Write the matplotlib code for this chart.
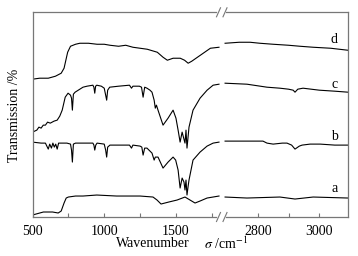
import numpy as np
import matplotlib.pyplot as plt

plt.rcParams['font.family'] = ['Liberation Serif', 'DejaVu Serif']
plt.rcParams['mathtext.fontset'] = 'stix'
plt.rcParams['font.size'] = 10

# ---- spectra (wavenumber, transmission in arbitrary offset units) ----
# low wavenumber part (500 - 1800)
d_w1 = [500, 550, 610, 660, 700, 720, 745, 765, 800, 830, 890, 950, 1000, 1040, 1100, 1150, 1200, 1250,
        1300, 1370, 1410, 1440, 1480, 1510, 1530, 1560, 1585, 1610, 1650, 1700, 1740, 1800]
d_t1 = [138, 139, 139, 141, 144, 149, 165, 171, 173, 174, 174, 173, 173, 172, 171, 172, 170, 169,
        168, 165, 160, 157, 159, 159, 159, 157, 154, 156, 160, 165, 169, 170]
d_w2 = [2694, 2740, 2775, 2807, 2850, 2900, 2937, 2980, 3037, 3093]
d_t2 = [174, 175, 175, 174, 173, 172, 171, 170, 169, 167]

c_w1 = [500, 515, 530, 545, 560, 575, 590, 605, 624, 650, 672, 690, 707, 728, 748, 765, 772, 778, 785,
        797, 830, 852, 880, 921, 928, 934, 940, 948, 980, 1000, 1010, 1017, 1024, 1038, 1100, 1176,
        1190, 1200, 1245, 1260, 1271, 1282, 1298, 1319, 1333, 1348, 1356, 1364, 1375, 1410, 1445,
        1480, 1500, 1515, 1529, 1543, 1563, 1570, 1577, 1591, 1619, 1668, 1717, 1759, 1800]
c_t1 = [85, 86, 87, 90, 89, 92, 92, 95, 94, 96, 97, 101, 107, 120, 124, 122, 119, 107, 123,
        125, 128, 130, 131, 132, 130, 124, 131, 132, 131, 129, 122, 117, 127, 130, 131, 132,
        129, 131, 131, 130, 120, 130, 129, 127, 125, 117, 109, 112, 107, 92, 99,
        107, 99, 87, 75, 85, 74, 87, 69, 90, 107, 119, 127, 132, 133]
c_w2 = [2694, 2765, 2830, 2872, 2900, 2915, 2921, 2930, 2947, 3000, 3050, 3093]
c_t2 = [134, 133, 130, 129, 128, 127, 125, 128, 129, 127, 126, 125]

b_w1 = [500, 560, 590, 600, 610, 620, 632, 642, 652, 662, 672, 682, 700, 740, 765, 772, 778, 785, 800,
        880, 921, 928, 934, 941, 950, 1000, 1010, 1017, 1024, 1040, 1100, 1176, 1190, 1200, 1250,
        1262, 1271, 1282, 1298, 1319, 1333, 1348, 1356, 1364, 1375, 1410, 1445, 1480, 1498, 1515,
        1529, 1543, 1556, 1563, 1570, 1577, 1585, 1591, 1619, 1668, 1717, 1759, 1800]
b_t1 = [75, 74, 74, 71, 68, 73, 69, 74, 70, 73, 68, 74, 74, 74, 73, 67, 55, 73, 74,
        74, 74, 72, 67, 72, 74, 73, 67, 60, 70, 72, 72, 72, 69, 72, 71,
        70, 62, 69, 69, 66, 64, 57, 60, 60, 60, 49, 55, 60, 57, 47,
        29, 39, 35, 27, 37, 22, 31, 37, 57, 65, 71, 74, 75]
b_w2 = [2694, 2760, 2817, 2830, 2850, 2880, 2895, 2910, 2921, 2935, 2944, 2970, 3003, 3050, 3093]
b_t2 = [76, 76, 76, 74, 73, 74, 74, 72, 68, 71, 72, 73, 73, 72, 72]

a_w1 = [500, 576, 640, 679, 700, 720, 735, 750, 800, 852, 948, 1086, 1250, 1340, 1368, 1396, 1450,
        1508, 1563, 1598, 1633, 1668, 1717, 1800]
a_t1 = [2, 5, 5, 4, 6, 14, 19, 20, 21, 21, 22, 21, 21, 20, 17, 13, 15, 17, 20, 17, 14, 16, 19, 21]
a_w2 = [2694, 2765, 2872, 2921, 2980, 3093]
a_t2 = [20, 19, 20, 18, 20, 19]

names = ['a', 'b', 'c', 'd']
label_y = [29, 81, 133, 178]

W, H = 358, 256
fig = plt.figure(figsize=(W / 100, H / 100), dpi=100)
ax1 = fig.add_axes([32.5 / W, 1 - 217 / H, (222 - 32.5) / W, (217 - 12.3) / H])
ax2 = fig.add_axes([222 / W, 1 - 217 / H, (348.3 - 222) / W, (217 - 12.3) / H], sharey=ax1)

for w, t in [(a_w1, a_t1), (b_w1, b_t1), (c_w1, c_t1), (d_w1, d_t1)]:
    ax1.plot(w, t, color='black', lw=0.8)
for w, t in [(a_w2, a_t2), (b_w2, b_t2), (c_w2, c_t2), (d_w2, d_t2)]:
    ax2.plot(w, t, color='black', lw=0.8)

for name, y in zip(names, label_y):
    ax2.text(3048, y, name, ha='center', va='center', fontsize=10)

ax1.set_xlim(500, 1821)
ax2.set_xlim(2684, 3094)
ax1.set_ylim(0, 205)

ax1.set_xticks([500, 1000, 1500])
ax1.set_xticks([750, 1250, 1750], minor=True)
ax2.set_xticks([2800, 3000])
ax2.set_xticks([2900], minor=True)

for ax in (ax1, ax2):
    ax.tick_params(axis='x', which='both', direction='in', length=3, width=0.8,
                   color='#777777', pad=5.5, labelsize=10, top=False)
    ax.tick_params(axis='y', left=False, right=False, labelleft=False)
    for s in ax.spines.values():
        s.set_color('#777777')
        s.set_linewidth(0.9)

ax1.spines['right'].set_visible(False)
ax2.spines['left'].set_visible(False)
ax1.spines['top'].set_bounds(500, 1780)
ax1.spines['bottom'].set_bounds(500, 1780)
ax2.spines['top'].set_bounds(2697, 3094)
ax2.spines['bottom'].set_bounds(2697, 3094)

# break marks "//"
for yp in (12.3, 217):
    for xp in (218.5, 225):
        fig.add_artist(plt.Line2D([(xp - 2) / W, (xp + 2) / W],
                                  [1 - (yp + 4.5) / H, 1 - (yp - 4.5) / H],
                                  color='#777777', lw=0.8))

fig.text(15 / W, 1 - 115 / H, 'Transmission /%', rotation=90, ha='center', va='center', fontsize=10)
fig.text(153 / W, 1 - 243.5 / H, 'Wavenumber', ha='center', va='center', fontsize=10)
fig.text(204 / W, 1 - 243.5 / H, r'$\sigma$ /cm$^{-1}$', ha='left', va='center', fontsize=10)

fig.savefig('out.png', dpi=100)
